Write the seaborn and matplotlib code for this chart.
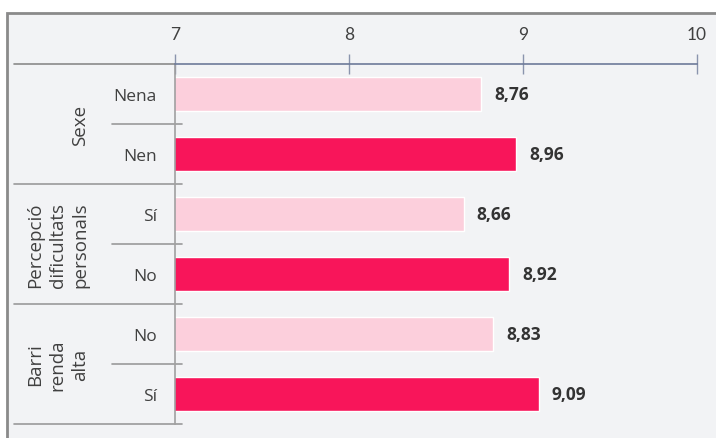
import numpy as np
import pandas as pd
import matplotlib.pyplot as plt
import seaborn as sns
from matplotlib.patches import Rectangle
from matplotlib.lines import Line2D

# data
grups = ["Sexe", "Percepció\ndificultats\npersonals", "Barri\nrenda\nalta"]
subcats = ["Nena", "Nen", "Sí", "No", "No", "Sí"]
valors = [8.76, 8.96, 8.66, 8.92, 8.83, 9.09]
tipus = ["clar", "fosc", "clar", "fosc", "clar", "fosc"]
xticks = [7, 8, 9, 10]

df = pd.DataFrame({
    "fila": [f"{i}_{s}" for i, s in enumerate(subcats)],
    "valor": valors,
    "tipus": tipus,
})

sns.set_theme(style="white")
plt.rcParams["font.family"] = ["Open Sans", "DejaVu Sans"]

W, H = 716, 439
fig = plt.figure(figsize=(W / 100, H / 100), dpi=100, facecolor="white")

# grey panel with border (left + top visible)
fig.patches.append(Rectangle((6.5 / W, -0.1), 1.2, (H - 13.5) / H + 0.1, transform=fig.transFigure,
                             facecolor="#f2f3f5", edgecolor="#8a8a8a", linewidth=2, zorder=-5))

x0, x1, ytop, ybot = 175, 697, 65, 425
ax = fig.add_axes([x0 / W, 1 - ybot / H, (x1 - x0) / W, (ybot - ytop) / H])
ax.set_facecolor("none")

sns.barplot(data=df, x="valor", y="fila", hue="tipus", dodge=False, legend=False,
            palette={"clar": "#fccfdc", "fosc": "#f8155a"}, width=34 / 60,
            saturation=1, ax=ax, zorder=2)

ax.set_xlim(7, 10)
ax.set_ylim(5.5, -0.5)
ax.set_xlabel("")
ax.set_ylabel("")
ax.xaxis.tick_top()
ax.set_xticks(xticks)
ax.set_xticklabels([str(t) for t in xticks], fontsize=12.5, color="#404040", family="Lato")
ax.tick_params(axis="x", direction="inout", length=14, width=1, color="#8a94ad", pad=9)
ax.set_yticks(range(len(subcats)))
ax.set_yticklabels(subcats, fontsize=12.5, color="#404040")
ax.tick_params(axis="y", length=0, pad=13)

for s in ["bottom", "right"]:
    ax.spines[s].set_visible(False)
ax.spines["top"].set_color("#6d7a99")
ax.spines["top"].set_linewidth(1.2)
ax.spines["left"].set_color("#a0a0a0")
ax.spines["left"].set_linewidth(1.2)

def px(p):
    return (p - x0) / (x1 - x0)

tr = ax.get_yaxis_transform()
ax.add_line(Line2D([px(14), 0], [-0.5, -0.5], transform=tr, color="#8a8a8a", lw=1.2, clip_on=False))
for b in [1.5, 3.5, 5.5]:
    ax.add_line(Line2D([px(14), px(182)], [b, b], transform=tr, color="#9a9a9a", lw=1.2, clip_on=False))
for b in [0.5, 2.5, 4.5]:
    ax.add_line(Line2D([px(112), px(182)], [b, b], transform=tr, color="#9a9a9a", lw=1.2, clip_on=False))

for g, yc in zip(grups, [0.5, 2.5, 4.5]):
    ax.text(px(89), yc, g, transform=tr, rotation=90, ha="right", va="center",
            multialignment="center", fontsize=13.5, color="#404040", linespacing=1.3)

for i, v in enumerate(valors):
    ax.text(v + 13 / 174, i, f"{v:.2f}".replace(".", ","), va="center", ha="left",
            fontsize=12.5, fontweight="bold", color="#333333")

fig.savefig("out.png", dpi=100)
